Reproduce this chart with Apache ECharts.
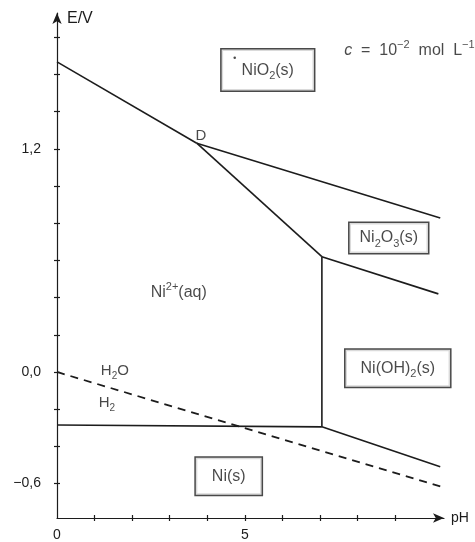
<!DOCTYPE html>
<html><head><meta charset="utf-8">
<script src="https://cdn.jsdelivr.net/npm/echarts@6/dist/echarts.min.js"></script>
<style>html,body{margin:0;padding:0;background:#fff}#c{width:475px;height:542px}</style>
</head><body><div id="c"></div>
<script>
// Boundary lines (pH, E/V)
const lineNiO2_Ni2 = [[0, 1.667], [3.72, 1.23]];
const lineNiO2_Ni2O3 = [[3.72, 1.23], [10.2, 0.828]];
const lineNi2O3_Ni2 = [[3.72, 1.23], [7.05, 0.62]];
const lineNi2O3_NiOH2 = [[7.05, 0.62], [10.15, 0.42]];
const lineNi2_NiOH2 = [[7.05, 0.62], [7.05, -0.295]];
const lineNi_Ni2 = [[0, -0.285], [7.05, -0.295]];
const lineNi_NiOH2 = [[7.05, -0.295], [10.2, -0.51]];
const lineWater = [[0, 0], [10.2, -0.615]];
// Tick values
const xTicks = [1, 2, 3, 4, 5, 6, 7, 8, 9];
const xTickLabels = [0, 5];
const yTicks = [-0.6, -0.4, -0.2, 0, 0.2, 0.4, 0.6, 0.8, 1.0, 1.2, 1.4, 1.6, 1.8];
const yTickLabels = [-0.6, 0, 1.2];
// Labels
const labelTexts = [
  '{n|NiO}{sub|2}{n|(s)}',
  '{n|Ni}{sub|2}{n|O}{sub|3}{n|(s)}',
  '{n|Ni(OH)}{sub|2}{n|(s)}',
  '{n|Ni(s)}',
  '{n|Ni}{sup|2+}{n|(aq)}',
  '{m|H}{msub|2}{m|O}',
  '{m|H}{msub|2}',
  '{m|D}',
  '{ci|c}{c|  =  10}{csup|−2}{c|  mol  L}{csup|−1}'
];
const labelPH = [5.61, 8.83, 9.07, 4.57, 3.24, 1.54, 1.33, 3.83, 9.38];
const labelE = [1.624, 0.72, 0.02, -0.56, 0.425, 0.005, -0.167, 1.27, 1.73];
const boxed = [true, true, true, true, false, false, false, false, false];
const dotPoint = [[4.73, 1.69]];

const INK = '#1c1c1c';
const FONT = '"Liberation Sans", Arial, Helvetica, sans-serif';
const rich = {
  n: {fontSize: 16, lineHeight: 22, verticalAlign: 'middle', color: INK, fontFamily: FONT},
  sub: {fontSize: 11, lineHeight: 14, verticalAlign: 'bottom', color: INK, fontFamily: FONT},
  sup: {fontSize: 11, lineHeight: 12, verticalAlign: 'top', color: INK, fontFamily: FONT},
  m: {fontSize: 15, lineHeight: 20, verticalAlign: 'middle', color: INK, fontFamily: FONT},
  msub: {fontSize: 10, lineHeight: 12, verticalAlign: 'bottom', color: INK, fontFamily: FONT},
  c: {fontSize: 16, lineHeight: 22, verticalAlign: 'middle', color: INK, fontFamily: FONT},
  ci: {fontSize: 16, lineHeight: 22, verticalAlign: 'middle', color: INK, fontFamily: FONT, fontStyle: 'italic'},
  csup: {fontSize: 11, lineHeight: 12, verticalAlign: 'top', color: INK, fontFamily: FONT}
};
const boxPadding = [[10, 20, 9, 20], [4, 10, 4, 10], [8, 15, 7, 15], [8, 16, 7, 16]];

const chart = echarts.init(document.getElementById('c'), null, {renderer: 'canvas'});
function fmtY(v) {
  const s = Math.abs(v).toFixed(1).replace('.', ',');
  return (v < 0 ? '−' : '') + s;
}
const lineStyle = {color: INK, width: 1.6};
function seg(d, dashed) {
  return {
    type: 'line', data: d, symbol: 'none', silent: true, z: 2,
    lineStyle: dashed ? {color: INK, width: 1.8, type: [8, 6]} : lineStyle
  };
}
const labelData = labelTexts.map((t, i) => {
  const item = {value: [labelPH[i], labelE[i]], label: {formatter: t}};
  if (boxed[i]) {
    Object.assign(item.label, {
      borderColor: INK, borderWidth: 1.5, backgroundColor: '#fff',
      padding: boxPadding[i], shadowBlur: 0, shadowColor: 'transparent'
    });
  }
  return item;
});
const xBase = {
  type: 'value', min: 0, max: 10.3, splitLine: {show: false}, position: 'bottom'
};
const yBase = {
  type: 'value', min: -0.785, max: 1.93, splitLine: {show: false}, position: 'left'
};
chart.setOption({
  animation: false,
  backgroundColor: '#fff',
  grid: {left: 57, top: 13, right: 31, bottom: 24, containLabel: false},
  xAxis: [
    Object.assign({}, xBase, {
      name: 'pH', nameLocation: 'end', nameGap: 7,
      nameTextStyle: {fontSize: 14, color: INK, fontFamily: FONT, padding: [6, 0, 0, 0]},
      axisLine: {onZero: false, lineStyle: {color: INK, width: 1.2}, symbol: ['none', 'arrow'], symbolSize: [7, 11]},
      axisTick: {show: true, customValues: xTicks, length: 3, lineStyle: {color: INK, width: 1.2}},
      axisLabel: {show: true, customValues: xTickLabels, margin: 10, fontSize: 14, color: INK, fontFamily: FONT}
    }),
    Object.assign({}, xBase, {
      axisLine: {show: false, onZero: false},
      axisTick: {show: true, inside: true, customValues: xTicks, length: 3, lineStyle: {color: INK, width: 1.2}},
      axisLabel: {show: false}
    })
  ],
  yAxis: [
    Object.assign({}, yBase, {
      name: 'E/V', nameLocation: 'end', nameGap: -6,
      nameTextStyle: {fontSize: 16, color: INK, fontFamily: FONT, align: 'left', verticalAlign: 'middle', padding: [0, 0, 0, 10]},
      axisLine: {onZero: false, lineStyle: {color: INK, width: 1.2}, symbol: ['none', 'arrow'], symbolSize: [7, 11]},
      axisTick: {show: true, customValues: yTicks, length: 3, lineStyle: {color: INK, width: 1.2}},
      axisLabel: {show: true, customValues: yTickLabels, margin: 16, fontSize: 14, color: INK, fontFamily: FONT, formatter: fmtY}
    }),
    Object.assign({}, yBase, {
      axisLine: {show: false, onZero: false},
      axisTick: {show: true, inside: true, customValues: yTicks, length: 3, lineStyle: {color: INK, width: 1.2}},
      axisLabel: {show: false}
    })
  ],
  series: [
    seg(lineNiO2_Ni2), seg(lineNiO2_Ni2O3), seg(lineNi2O3_Ni2), seg(lineNi2O3_NiOH2),
    seg(lineNi2_NiOH2), seg(lineNi_Ni2), seg(lineNi_NiOH2), seg(lineWater, true),
    {
      type: 'scatter', data: labelData, symbolSize: 1, silent: true, z: 5,
      itemStyle: {color: 'rgba(0,0,0,0)'},
      label: {show: true, position: 'inside', rich: rich, color: INK, textBorderWidth: 0}
    },
    {
      type: 'scatter', data: dotPoint, symbolSize: 2.5, silent: true, z: 6,
      itemStyle: {color: INK}
    }
  ]
});
</script></body></html>
